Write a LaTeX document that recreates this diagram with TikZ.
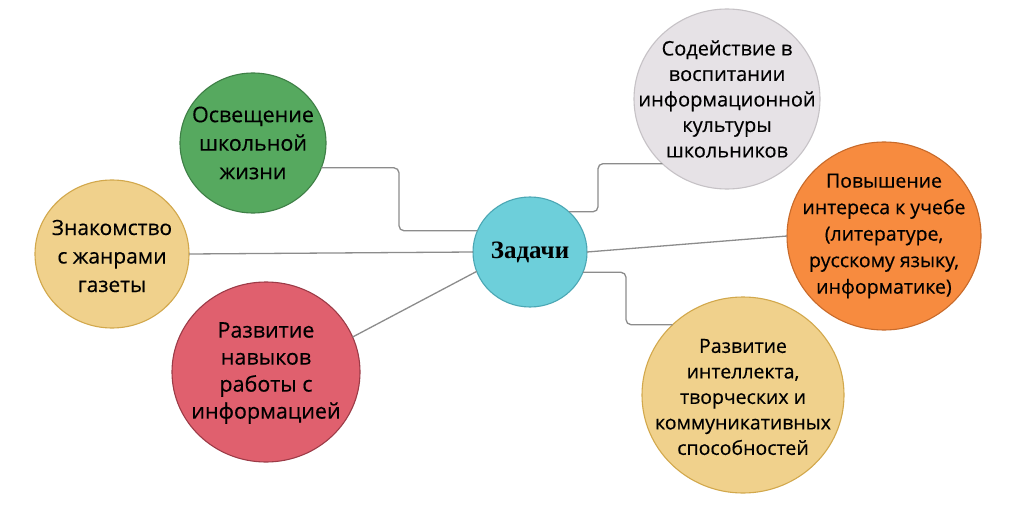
\documentclass[tikz,border=0pt]{standalone}
\usepackage{fontspec}
\setmainfont{Open Sans}[FakeBold=0.35]
\newfontfamily\zfont{Liberation Serif}
\usetikzlibrary{shapes.geometric}
\definecolor{cfill}{HTML}{6DCFDA}\definecolor{cline}{HTML}{4BA7B4}
\definecolor{gfill}{HTML}{56A95F}\definecolor{gline}{HTML}{3E7F46}
\definecolor{yfill}{HTML}{F0D18C}\definecolor{yline}{HTML}{D2A84C}
\definecolor{rfill}{HTML}{E0606E}\definecolor{rline}{HTML}{9C3B47}
\definecolor{sfill}{HTML}{E6E2E6}\definecolor{sline}{HTML}{C6C2C6}
\definecolor{ofill}{HTML}{F78B3F}\definecolor{oline}{HTML}{C86A2A}
\definecolor{conncol}{HTML}{8C8C8C}
\tikzset{
  bub/.style={ellipse, draw, line width=1.1pt, inner sep=0pt, outer sep=0pt},
  btxt/.style={align=center, text=black, inner sep=0pt},
  conn/.style={draw=conncol, line width=1.3pt, rounded corners=5pt},
}
\begin{document}
\begin{tikzpicture}[x=1pt,y=-1pt]
\useasboundingbox[fill=white] (0,0) rectangle (1024,505);
\node[bub, fill=cfill, draw=cline, minimum width=114, minimum height=110,
  label={[btxt, font={\zfont\bfseries\fontsize{25}{30}\selectfont}]center:Задачи}] (z) at (530,252) {};
\node[bub, fill=gfill, draw=gline, minimum width=146, minimum height=140,
  label={[btxt, font={\fontsize{21.5}{28.5}\selectfont}]center:{Освещение\\школьной\\жизни}}] (green) at (253,143) {};
\node[bub, fill=yfill, draw=yline, minimum width=154, minimum height=148,
  label={[btxt, yshift=-2, font={\fontsize{21}{28.5}\selectfont}]center:{Знакомство\\с жанрами\\газеты}}] (know) at (112,254) {};
\node[bub, fill=rfill, draw=rline, minimum width=188, minimum height=180,
  label={[btxt, yshift=-1, font={\fontsize{21.5}{27}\selectfont}]center:{Развитие\\навыков\\работы с\\информацией}}] (red) at (266,372) {};
\node[bub, fill=sfill, draw=sline, minimum width=186, minimum height=180,
  label={[btxt, font={\fontsize{20}{25.5}\selectfont}]center:{Содействие в\\воспитании\\информационной\\культуры\\школьников}}] (gray) at (727,99) {};
\node[bub, fill=ofill, draw=oline, minimum width=194, minimum height=188,
  label={[btxt, font={\fontsize{19.5}{26.5}\selectfont}]center:{Повышение\\интереса к учебе\\(литературе,\\русскому языку,\\информатике)}}] (orange) at (884,236) {};
\node[bub, fill=yfill, draw=yline, minimum width=202, minimum height=196,
  label={[btxt, yshift=-2, font={\fontsize{19.5}{25.5}\selectfont}]center:{Развитие\\интеллекта,\\творческих и\\коммуникативных\\способностей}}] (intel) at (743,395) {};
\coordinate (c1) at (399,0);
\coordinate (c2) at (598,0);
\coordinate (c3) at (626,0);
\draw[conn] (green.-20) -- (green.-20 -| c1) -- (c1 |- z.158) -- (z.158);
\draw[conn] (z.46) -- (z.46 -| c2) -- (c2 |- gray.225) -- (gray.225);
\draw[conn] (z.-21) -- (z.-21 -| c3) -- (c3 |- intel.135) -- (intel.135);
\draw[conn] (know.east) -- (z.west);
\draw[conn] (z.east) -- (orange.west);
\draw[conn] (z.200) -- (red.22);
\end{tikzpicture}
\end{document}
